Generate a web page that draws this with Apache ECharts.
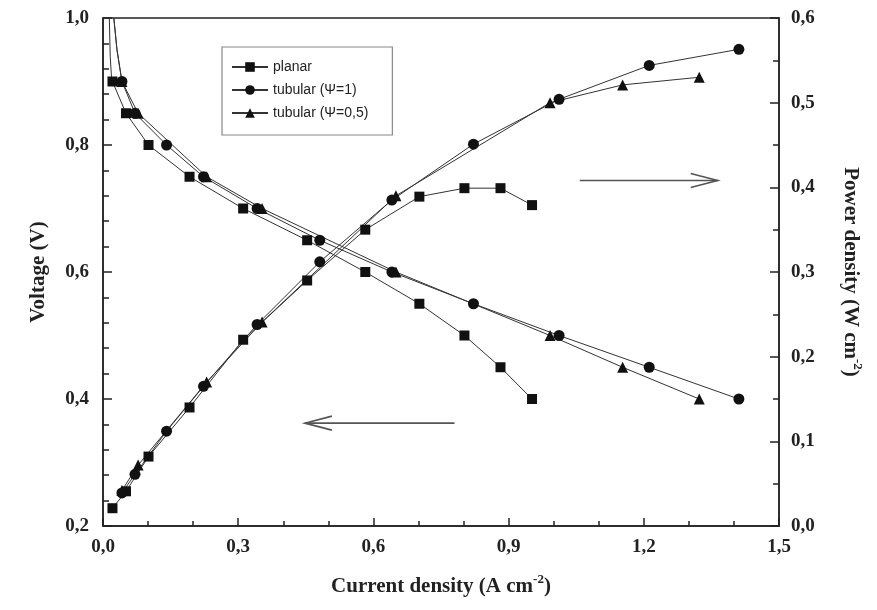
<!DOCTYPE html>
<html lang="en">
<head>
  <meta charset="UTF-8">
  <title>Voltage / power density</title>
  <script src="https://cdn.jsdelivr.net/npm/echarts@6/dist/echarts.min.js"></script>
  <style>
    html, body { margin: 0; padding: 0; background: #fff; }
    #box { width: 877px; height: 610px; }
  </style>
</head>
<body>
<div id="box"></div>
<script>
  // data
  var seriesNames = ['planar', 'tubular (Ψ=1)', 'tubular (Ψ=0,5)'];

  var planarI = [0.021, 0.051, 0.101, 0.192, 0.311, 0.453, 0.582, 0.702, 0.802, 0.882, 0.952];
  var planarV = [0.90, 0.85, 0.80, 0.75, 0.70, 0.65, 0.60, 0.55, 0.50, 0.45, 0.40];
  var planarP = [0.021, 0.041, 0.082, 0.140, 0.220, 0.290, 0.350, 0.389, 0.399, 0.399, 0.379];

  var tub1I = [0.042, 0.071, 0.141, 0.223, 0.342, 0.481, 0.641, 0.822, 1.012, 1.212, 1.411];
  var tub1V = [0.90, 0.85, 0.80, 0.75, 0.70, 0.65, 0.60, 0.55, 0.50, 0.45, 0.40];
  var tub1P = [0.039, 0.061, 0.112, 0.165, 0.238, 0.312, 0.385, 0.451, 0.504, 0.544, 0.563];

  var tub05I = [0.042, 0.078, 0.230, 0.353, 0.650, 0.992, 1.153, 1.323];
  var tub05V = [0.90, 0.85, 0.75, 0.70, 0.60, 0.50, 0.45, 0.40];
  var tub05P = [0.042, 0.072, 0.170, 0.241, 0.390, 0.500, 0.521, 0.530];

  // start of the fitted voltage curves (above the first measured point)
  var planarStart = [[0.014, 1.0], [0.016, 0.94], [0.019, 0.905]];
  var tub1Start = [[0.024, 1.0], [0.031, 0.95]];
  var tub05Start = [[0.024, 1.0], [0.031, 0.95]];

  function comma(v) {
    return v.toFixed(1).replace('.', ',');
  }

  function pairs(xs, ys, start) {
    var out = [];
    (start || []).forEach(function (p) {
      out.push({ value: p, symbol: 'none' });
    });
    for (var i = 0; i < xs.length; i++) {
      out.push([xs[i], ys[i]]);
    }
    return out;
  }

  var serif = '"Liberation Serif", "Times New Roman", serif';
  var tickFont = { fontFamily: serif, fontWeight: 'bold', fontSize: 19, color: '#222' };
  var nameFont = {
    fontFamily: serif, fontWeight: 'bold', fontSize: 21, color: '#222',
    rich: {
      n: { fontFamily: serif, fontWeight: 'bold', fontSize: 21, color: '#222' },
      s: { fontFamily: serif, fontWeight: 'bold', fontSize: 13, color: '#222', padding: [0, 0, 14, 0] }
    }
  };

  function lineSeries(name, data, symbol, size, yIndex) {
    return {
      name: name,
      type: 'line',
      yAxisIndex: yIndex,
      data: data,
      symbol: symbol,
      symbolSize: size,
      showAllSymbol: true,
      lineStyle: { color: '#333', width: 1 },
      itemStyle: { color: '#111' },
      emphasis: { disabled: true },
      z: 3
    };
  }

  var chart = echarts.init(document.getElementById('box'));

  var axisLine = { show: true, lineStyle: { color: '#222', width: 1.5 } };

  var option = {
    animation: false,
    grid: {
      left: 103, right: 98, top: 18, bottom: 84,
      show: true, borderColor: '#222', borderWidth: 1.5
    },
    legend: {
      data: seriesNames,
      orient: 'vertical',
      left: 222,
      top: 47,
      itemWidth: 36,
      itemHeight: 12,
      itemGap: 9,
      padding: [13, 24, 15, 9],
      borderColor: '#888',
      borderWidth: 1.2,
      textStyle: { fontFamily: '"Liberation Sans", Arial, sans-serif', fontSize: 14, color: '#222' }
    },
    xAxis: {
      type: 'value',
      min: 0, max: 1.5, interval: 0.3,
      name: '{n|Current density (A cm}{s|-2}{n|)}',
      nameLocation: 'middle',
      nameGap: 47,
      nameTextStyle: nameFont,
      axisLine: axisLine,
      axisTick: { inside: true, length: 8, lineStyle: { color: '#222', width: 1.5 } },
      minorTick: { show: true, splitNumber: 3, length: 5, lineStyle: { color: '#222', width: 1.5 } },
      splitLine: { show: false },
      axisLabel: Object.assign({ margin: 12, formatter: comma }, tickFont)
    },
    yAxis: [
      {
        type: 'value',
        min: 0.2, max: 1.0, interval: 0.2,
        name: 'Voltage (V)',
        nameLocation: 'middle',
        nameGap: 54,
        nameTextStyle: nameFont,
        axisLine: axisLine,
        axisTick: { inside: true, length: 9, lineStyle: { color: '#222', width: 1.5 } },
        minorTick: { show: true, splitNumber: 5, length: 6, lineStyle: { color: '#222', width: 1.5 } },
        splitLine: { show: false },
        axisLabel: Object.assign({ margin: 14, formatter: comma }, tickFont)
      },
      {
        type: 'value',
        min: 0, max: 0.6, interval: 0.1,
        position: 'right',
        name: '{n|Power density (W cm}{s|-2}{n|)}',
        nameLocation: 'middle',
        nameGap: 58,
        nameRotate: -90,
        nameTextStyle: nameFont,
        axisLine: axisLine,
        axisTick: { inside: true, length: 9, lineStyle: { color: '#222', width: 1.5 } },
        minorTick: { show: true, splitNumber: 2, length: 6, lineStyle: { color: '#222', width: 1.5 } },
        splitLine: { show: false },
        axisLabel: Object.assign({ margin: 12, formatter: comma }, tickFont)
      }
    ],
    series: [
      lineSeries(seriesNames[0], pairs(planarI, planarV, planarStart), 'rect', 10, 0),
      lineSeries(seriesNames[1], pairs(tub1I, tub1V, tub1Start), 'circle', 11, 0),
      lineSeries(seriesNames[2], pairs(tub05I, tub05V, tub05Start), 'triangle', 11, 0),
      lineSeries(seriesNames[0], pairs(planarI, planarP), 'rect', 10, 1),
      lineSeries(seriesNames[1], pairs(tub1I, tub1P), 'circle', 11, 1),
      lineSeries(seriesNames[2], pairs(tub05I, tub05P), 'triangle', 11, 1)
    ]
  };

  chart.setOption(option);

  // arrows pointing to the axis each curve family belongs to
  function arrow(tail, tip, dir) {
    var style = { stroke: '#555', lineWidth: 1.6, fill: null };
    return [
      { type: 'line', shape: { x1: tail[0], y1: tail[1], x2: tip[0], y2: tip[1] }, style: style, silent: true },
      {
        type: 'polyline',
        shape: { points: [[tip[0] - dir * 27, tip[1] - 7], tip, [tip[0] - dir * 27, tip[1] + 7]] },
        style: style, silent: true
      }
    ];
  }

  var lTail = chart.convertToPixel({ xAxisIndex: 0, yAxisIndex: 0 }, [0.78, 0.362]);
  var lTip = chart.convertToPixel({ xAxisIndex: 0, yAxisIndex: 0 }, [0.448, 0.362]);
  var rTail = chart.convertToPixel({ xAxisIndex: 0, yAxisIndex: 1 }, [1.058, 0.408]);
  var rTip = chart.convertToPixel({ xAxisIndex: 0, yAxisIndex: 1 }, [1.364, 0.408]);

  chart.setOption({
    graphic: arrow(lTail, lTip, -1).concat(arrow(rTail, rTip, 1))
  });
</script>
</body>
</html>
